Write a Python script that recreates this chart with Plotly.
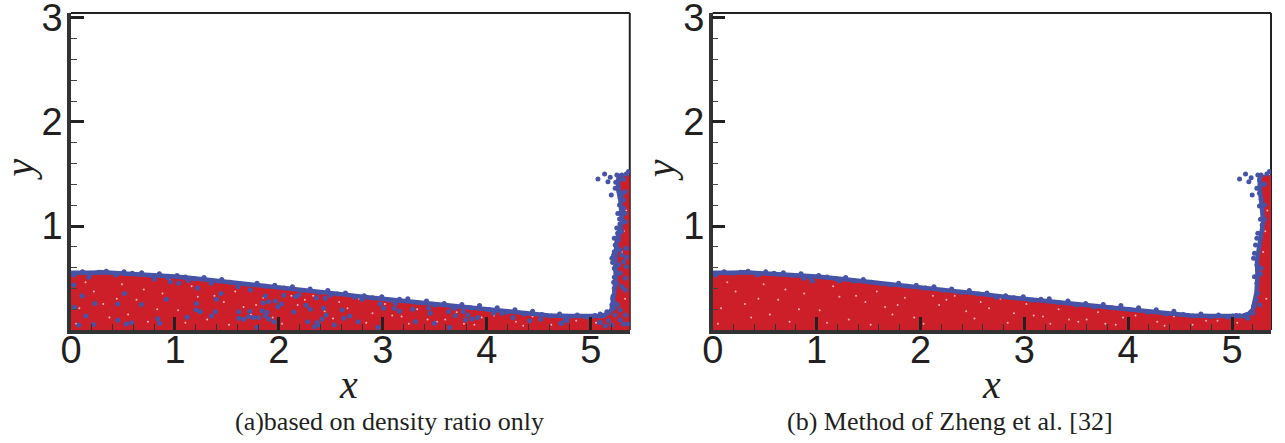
import plotly.graph_objects as go

X_RANGE = [0, 5.375]
Y_RANGE = [0, 3.048]
x_major = [0, 1, 2, 3, 4, 5]
y_major = [1, 2, 3]
x_minor = [0.2, 0.4, 0.6, 0.8, 1.2, 1.4, 1.6, 1.8, 2.2, 2.4, 2.6, 2.8, 3.2, 3.4, 3.6, 3.8, 4.2, 4.4, 4.6, 4.8, 5.2]
y_minor = [0.2, 0.4, 0.6, 0.8, 1.2, 1.4, 1.6, 1.8, 2.2, 2.4, 2.6, 2.8]

surface_x = [0, .1, .2, .3, .4, .5, .6, .8, 1.0, 1.2, 1.4, 1.6, 1.8, 2.0, 2.2, 2.4, 2.6, 2.8, 3.0, 3.2, 3.4, 3.6, 3.8, 4.0, 4.2, 4.4, 4.6, 4.8, 5.0, 5.1, 5.16, 5.2]
surface_y = [.55, .545, .55, .555, .55, .55, .545, .53, .515, .495, .475, .45, .435, .41, .39, .37, .345, .32, .30, .285, .255, .24, .225, .205, .185, .165, .14, .135, .13, .135, .155, .195]

ridge_x = [.03, .11, .19, .27, .34, .43, .51, .59, .68, .76, .85, .93, 1.02, 1.10, 1.19, 1.28, 1.36, 1.45, 1.53, 1.62, 1.70, 1.79, 1.87, 1.96, 2.05, 2.13, 2.22, 2.30, 2.39, 2.47, 2.56, 2.64, 2.73, 2.82, 2.90, 2.99, 3.07, 3.16, 3.24, 3.33, 3.42, 3.50, 3.59, 3.67, 3.76, 3.84, 3.93, 4.02, 4.10, 4.19, 4.27, 4.36, 4.44, 4.53, 4.62, 4.70, 4.79, 4.87, 4.96, 5.04, 5.12]
ridge_y = [.53, .56, .545, .555, .565, .53, .56, .545, .55, .525, .54, .505, .525, .51, .49, .505, .47, .485, .46, .445, .435, .45, .42, .43, .405, .415, .38, .395, .36, .38, .345, .355, .315, .33, .31, .32, .285, .295, .30, .265, .28, .24, .255, .22, .245, .215, .235, .195, .215, .17, .195, .155, .18, .15, .135, .155, .13, .145, .125, .14, .135]

wall_a_x = [5.225, 5.24, 5.235, 5.25, 5.30, 5.285, 5.26, 5.27]
wall_a_y = [.36, .51, .67, .865, 1.04, 1.25, 1.365, 1.49]
wall_b_x = [5.235, 5.245, 5.24, 5.27, 5.30, 5.28, 5.265, 5.27]
wall_b_y = [.36, .51, .67, .865, 1.04, 1.25, 1.365, 1.49]

inner_a_x = [.171, .027, .107, .514, .229, .450, .678, .918, .034, .143, .075, .216, .450, .530, .582, .835, .854, 1.117, 1.207, 1.204, 1.245, 1.389, 1.351, 1.399, 1.444, 1.216, 1.037, .957, 1.127, 1.348, 1.614, 1.614, 1.662, 1.710, 1.604, .803,
             1.726, 1.870, 1.848, 1.902, 1.967, 2.024, 1.989, 2.047, 2.159, 2.191, 1.838, 1.886, 1.870, 1.720, 1.758, 1.806, 1.902, 1.951, 2.143, 2.261, 2.303, 2.431, 2.454, 2.415, 2.367, 2.277, 2.342, 2.383, 2.534, 2.608, 2.624, 2.681, 2.761, 2.951, 3.008, 2.976, 3.120, 3.111, 3.159, 3.287, 3.313, 3.441, 2.447, 2.361, 2.495, 2.800, 1.790,
             3.457, 3.496, 3.633, 3.691, 3.698, 3.771, 3.816, 3.794, 3.858, 3.912, 4.066, 4.146, 4.252, 4.412, 4.521, 4.723, 4.771, 5.085, 3.643]
inner_a_y = [.506, .433, .327, .352, .256, .250, .244, .295, .218, .135, .048, .054, .093, .058, .070, .109, .064, .122, .256, .192, .176, .176, .135, .295, .352, .404, .449, .465, .474, .449, .176, .112, .103, .128, .417, .490,
             .385, .327, .263, .272, .279, .250, .224, .333, .321, .337, .186, .170, .138, .180, .119, .119, .106, .080, .173, .237, .199, .208, .144, .103, .071, .080, .032, .048, .048, .192, .112, .135, .080, .026, .208, .250, .256, .208, .180, .199, .080, .208, .305, .311, .337, .295, .026,
             .161, .064, .177, .209, .138, .177, .145, .096, .106, .119, .161, .161, .119, .090, .103, .064, .090, .071, .023]

spray_a_x = [5.069, 5.133, 5.187, 5.165, 5.197,
             5.251, 5.299, 5.341, 5.363, 5.267, 5.315, 5.267, 5.235, 5.283, 5.331, 5.283, 5.315, 5.277, 5.315, 5.283, 5.299, 5.277, 5.331, 5.331, 5.283, 5.258, 5.299, 5.226, 5.267, 5.235, 5.341, 5.283, 5.226, 5.203, 5.235, 5.299, 5.267, 5.315, 5.341, 5.226, 5.251, 5.283, 5.226, 5.331, 5.251, 5.299, 5.226, 5.213, 5.331, 5.203, 5.155, 5.091, 5.283, 5.235, 5.331, 5.171, 5.091, 5.283, 5.203, 5.141, 5.315, 5.354, 4.754, 4.713, 5.258, 5.341,
             5.22, 5.21, 5.25, 5.24, 5.27, 5.22, 5.21, 5.23, 5.22, 5.25, 5.28, 5.26, 5.30, 5.24, 5.27]
spray_a_y = [1.452, 1.500, 1.468, 1.426, 1.298,
             1.491, 1.491, 1.500, 1.523, 1.442, 1.449, 1.362, 1.362, 1.321, 1.330, 1.266, 1.250, 1.202, 1.170, 1.122, 1.064, 1.067, 1.122, 1.042, .978, .930, .946, .882, .866, .818, .786, .769, .753, .689, .657, .721, .625, .657, .699, .593, .545, .545, .507, .497, .449, .417, .401, .321, .385, .241, .176, .154, .192, .144, .144, .090, .071, .096, .048, .039, .058, .058, .096, .064, .241, .609,
             .72, .65, .80, .58, .90, .46, .30, .26, .21, .98, 1.02, 1.12, 1.30, 1.42, 1.48]

inner_b_x = [.874, .960, 1.220]
inner_b_y = [.497, .471, .474]

spray_b_x = [5.072, 5.130, 5.184, 5.162, 5.194,
             5.248, 5.280, 5.335, 5.360, 5.264, 5.239, 5.280, 5.312, 5.264, 5.280, 5.312, 5.264, 5.274, 5.312, 5.290, 5.248, 5.239, 5.226, 5.216, 5.207, 5.239, 5.216, 5.274, 5.280, 5.239, 5.248, 5.264, 5.207, 5.232, 5.184, 5.136, 5.072, 5.152, 5.008, 5.200]
spray_b_y = [1.452, 1.500, 1.465, 1.426, 1.298,
             1.491, 1.491, 1.500, 1.523, 1.442, 1.362, 1.394, 1.401, 1.314, 1.257, 1.202, 1.192, 1.064, 1.064, 1.010, .930, .882, .818, .737, .689, .625, .513, .539, .593, .449, .353, .241, .225, .289, .176, .144, .138, .112, .135, .160]

speck_x = [.08, .22, .37, .49, .63, .74, .88, 1.03, 1.16, 1.31, 1.47, 1.58, 1.73, 1.85, 2.03, 2.18, 2.33, 2.52, 2.66, 2.84, 3.02, 3.18, 3.33, 3.52, 3.71, 3.88, 4.07, 4.28, 4.44, 4.62, 4.86, 5.05, 5.33, 5.30, 5.34,
           .14, .31, .55, .70, .95, 1.10, 1.38, 1.66, 1.94, 2.25, 2.58, 2.90, 3.25, 3.60, 3.95, 4.35, 4.75, 5.28, 5.32,
           .05, .44, .83, 1.22, 1.52, 1.78, 2.12, 2.44, 2.77, 3.09, 3.43, 3.78]
speck_y = [.21, .37, .12, .44, .29, .08, .35, .19, .42, .10, .27, .37, .15, .31, .06, .24, .33, .11, .21, .07, .25, .13, .20, .08, .17, .05, .14, .08, .13, .05, .09, .07, .30, .75, 1.15,
           .46, .25, .15, .39, .48, .07, .33, .22, .12, .29, .27, .16, .06, .10, .12, .04, .09, .55, .95,
           .06, .30, .20, .32, .05, .24, .33, .18, .30, .14, .10, .06]

RED = "#cc1f2a"
BLUE = "#4653a6"
DARK = "#333333"
ML, MR, MT, MB = 70.5, 14, 13, 113
PW = 1285 - ML - MR
PH = 443 - MT - MB
P1 = [0, 559 / PW]
P2 = [(712.5 - ML) / PW, 1]


def fx(px):
    return (px - ML) / PW


def fy(py):
    return (443 - MB - py) / PH


fig = go.Figure()


def panel(xa, ya, wx, wy, ix, iy, sx, sy):
    px = [0] + surface_x + wx + [X_RANGE[1], X_RANGE[1], 0]
    py = [surface_y[0]] + surface_y + wy + [wy[-1], 0, 0]
    fig.add_trace(go.Scatter(x=px, y=py, xaxis=xa, yaxis=ya, mode="lines", fill="toself",
                             fillcolor=RED, line=dict(width=0), showlegend=False, hoverinfo="skip"))
    fig.add_trace(go.Scatter(x=speck_x, y=speck_y, xaxis=xa, yaxis=ya, mode="markers",
                             marker=dict(size=2, color="#f4b6ba"), showlegend=False))
    fig.add_trace(go.Scatter(x=surface_x + wx, y=surface_y + wy, xaxis=xa, yaxis=ya, mode="lines",
                             line=dict(color=BLUE, width=4.5), showlegend=False))
    fig.add_trace(go.Scatter(x=ridge_x + ix + sx, y=ridge_y + iy + sy, xaxis=xa, yaxis=ya, mode="markers",
                             marker=dict(size=5, color=BLUE), showlegend=False))


panel("x", "y", wall_a_x, wall_a_y, inner_a_x, inner_a_y, spray_a_x, spray_a_y)
panel("x2", "y2", wall_b_x, wall_b_y, inner_b_x, inner_b_y, spray_b_x, spray_b_y)

tick_font = dict(family="Liberation Sans", size=38, color="#231f20")


def xaxis(domain, anchor):
    return dict(domain=domain, anchor=anchor, range=X_RANGE, tickmode="array", tickvals=x_major,
                ticktext=[str(v) for v in x_major], ticks="inside", ticklen=13, tickwidth=2.5, tickcolor="#222",
                showgrid=False, zeroline=False, showline=True, linewidth=3.5, linecolor=DARK, tickfont=tick_font,
                ticklabelstandoff=-16, ticklabeloverflow="allow",
                minor=dict(tickmode="array", tickvals=x_minor, ticks="inside", ticklen=6, tickwidth=1.3, tickcolor="#333"))


def yaxis(anchor):
    return dict(domain=[0, 1], anchor=anchor, range=Y_RANGE, tickmode="array", tickvals=y_major,
                ticktext=[str(v) for v in y_major], ticks="inside", ticklen=13, tickwidth=2.5, tickcolor="#222",
                showgrid=False, zeroline=False, showline=True, linewidth=3.5, linecolor=DARK, tickfont=tick_font,
                ticklabelstandoff=-3, ticklabeloverflow="allow",
                minor=dict(tickmode="array", tickvals=y_minor, ticks="inside", ticklen=6, tickwidth=1.3, tickcolor="#444"))


shapes = []
for dom_x, dom_y in (("x domain", "y domain"), ("x2 domain", "y2 domain")):
    shapes.append(dict(type="line", xref=dom_x, yref=dom_y, x0=0, x1=1, y0=1, y1=1, line=dict(color="#222", width=2)))
    shapes.append(dict(type="line", xref=dom_x, yref=dom_y, x0=1, x1=1, y0=0, y1=1, layer="below", line=dict(color="#222", width=2)))

serif = "Liberation Serif"
annotations = []
for xpx, ypx, cap, capx in ((348, 18, "(a)based on density ratio only", 389), (991, 660, "(b) Method of Zheng et al. [32]", 950)):
    annotations.append(dict(xref="paper", yref="paper", x=fx(xpx), y=fy(384), text="<i>x</i>",
                            showarrow=False, xanchor="center", yanchor="middle", font=dict(family=serif, size=40, color="#231f20")))
    annotations.append(dict(xref="paper", yref="paper", x=fx(ypx), y=fy(170), text="<i>y</i>", textangle=-90,
                            showarrow=False, xanchor="center", yanchor="middle", font=dict(family=serif, size=40, color="#231f20")))
    annotations.append(dict(xref="paper", yref="paper", x=fx(capx), y=fy(421), text=cap,
                            showarrow=False, xanchor="center", yanchor="middle", font=dict(family=serif, size=26, color="#231f20")))

fig.update_layout(width=1285, height=443, autosize=False, margin=dict(l=ML, r=MR, t=MT, b=MB, pad=0, autoexpand=False),
                  paper_bgcolor="white", plot_bgcolor="white", showlegend=False,
                  xaxis=xaxis(P1, "y"), yaxis=yaxis("x"), xaxis2=xaxis(P2, "y2"), yaxis2=yaxis("x2"),
                  shapes=shapes, annotations=annotations)

fig.write_html("out.html", config=dict(displayModeBar=False),
               post_script="document.body.style.margin='0';document.documentElement.style.overflow='hidden';")
